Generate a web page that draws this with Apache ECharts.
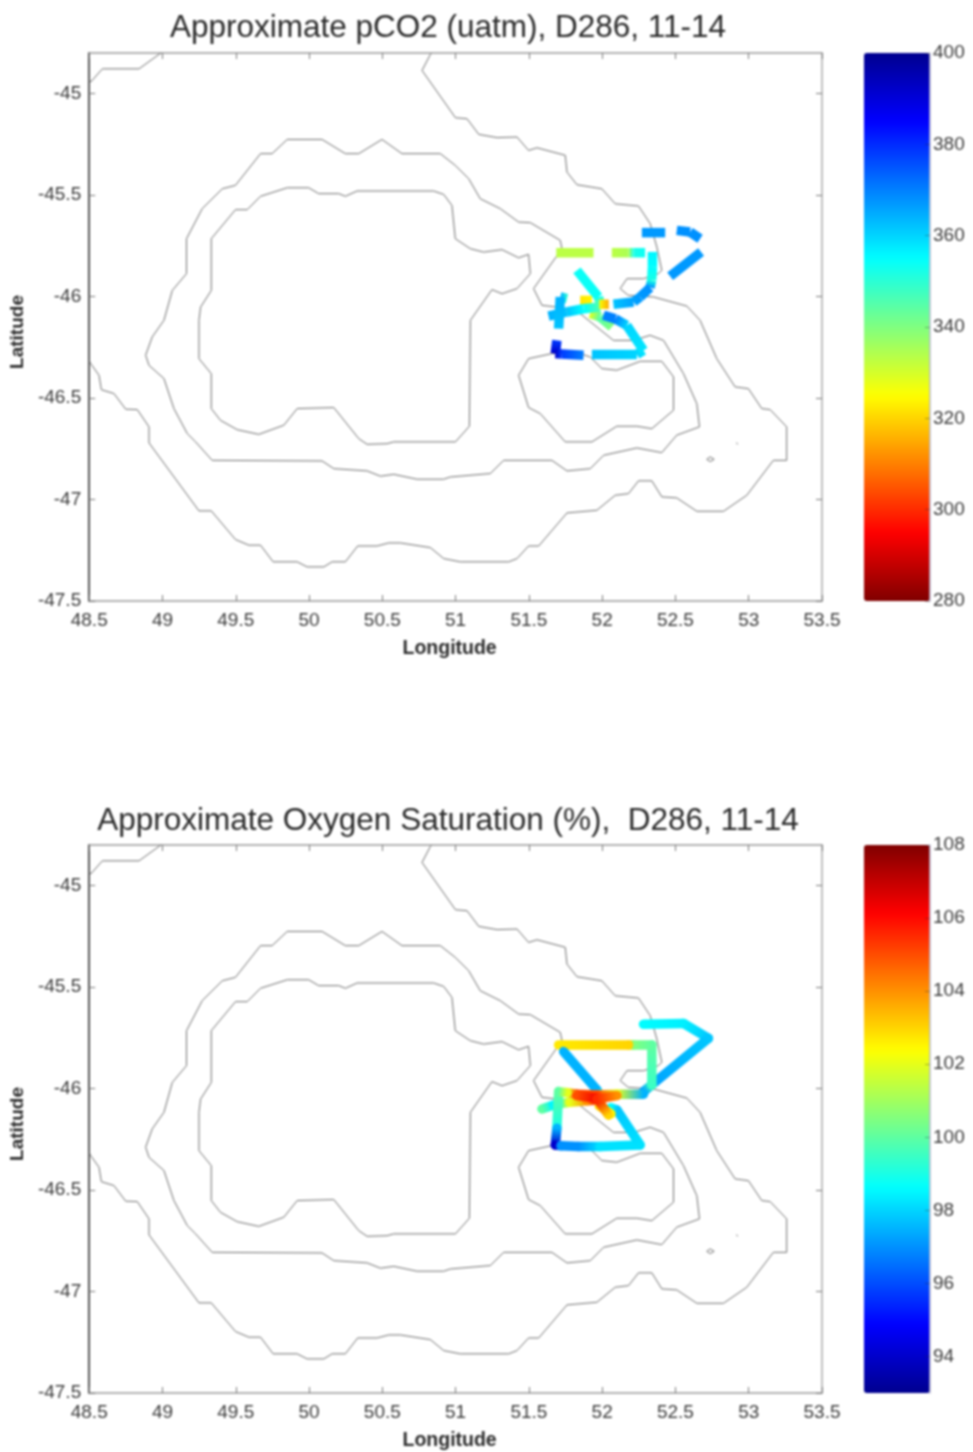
<!DOCTYPE html>
<html><head><meta charset="utf-8">
<style>html,body{margin:0;padding:0;background:#fff}#chart{width:973px;height:1452px;filter:blur(0.8px)}</style>
<script src="https://cdn.jsdelivr.net/npm/echarts@6/dist/echarts.min.js"></script>
</head><body><div id="chart"></div>
<script>
const titles = ['Approximate pCO2 (uatm), D286, 11-14', 'Approximate Oxygen Saturation (%),  D286, 11-14'];
const lonTicks = [48.5,49,49.5,50,50.5,51,51.5,52,52.5,53,53.5];
const latTicks = [-47.5,-47,-46.5,-46,-45.5,-45];
const pco2Ticks = [280,300,320,340,360,380,400];
const oxyTicks = [94,96,98,100,102,104,106,108];
const jet = ['#00008f','#0000ff','#0080ff','#00ffff','#80ff80','#ffff00','#ff8000','#ff0000','#800000'];

const contourNW = [[48.5,-44.93],[48.510,-44.943],[48.590,-44.878],[48.840,-44.878],[48.976,-44.807],[48.99,-44.8]];
const contourOuter = [[48.5,-46.315],[48.510,-46.330],[48.567,-46.388],[48.583,-46.459],[48.669,-46.478],[48.749,-46.555],[48.828,-46.557],[48.908,-46.642],[48.908,-46.721],[49.249,-47.056],[49.333,-47.056],[49.498,-47.197],[49.589,-47.225],[49.669,-47.225],[49.755,-47.307],[49.919,-47.307],[49.987,-47.332],[50.101,-47.332],[50.157,-47.307],[50.248,-47.307],[50.332,-47.229],[50.464,-47.229],[50.544,-47.214],[50.623,-47.214],[50.828,-47.237],[50.919,-47.291],[51.032,-47.307],[51.362,-47.307],[51.419,-47.291],[51.498,-47.229],[51.567,-47.229],[51.760,-47.066],[51.964,-47.053],[52.089,-46.979],[52.180,-46.971],[52.248,-46.908],[52.339,-46.908],[52.407,-46.987],[52.509,-46.992],[52.646,-47.058],[52.828,-47.058],[52.987,-46.979],[53.168,-46.807],[53.259,-46.807],[53.259,-46.642],[53.146,-46.557],[53.089,-46.552],[52.998,-46.454],[52.907,-46.445],[52.782,-46.306],[52.668,-46.117],[52.578,-46.047],[52.350,-46.002],[52.178,-45.994],[52.123,-45.961],[52.169,-45.912],[52.282,-45.912],[52.384,-45.887],[52.407,-45.871],[52.373,-45.756],[52.328,-45.641],[52.248,-45.554],[52.089,-45.543],[51.998,-45.469],[51.828,-45.449],[51.760,-45.387],[51.748,-45.304],[51.555,-45.267],[51.498,-45.280],[51.419,-45.214],[51.283,-45.217],[51.158,-45.201],[51.078,-45.124],[50.999,-45.119],[50.771,-44.886],[50.828,-44.807],[50.835,-44.8]];
const contourMiddle = [[49.010,-46.117],[49.067,-45.970],[49.164,-45.887],[49.164,-45.715],[49.271,-45.567],[49.408,-45.469],[49.498,-45.452],[49.669,-45.296],[49.748,-45.296],[49.851,-45.226],[50.089,-45.226],[50.248,-45.296],[50.339,-45.296],[50.498,-45.226],[50.634,-45.296],[50.896,-45.296],[50.998,-45.354],[51.089,-45.419],[51.168,-45.518],[51.305,-45.567],[51.430,-45.633],[51.510,-45.636],[51.714,-45.723],[51.726,-45.764],[51.532,-45.961],[51.589,-46.043],[51.680,-46.051],[51.850,-46.084],[52.077,-46.216],[52.214,-46.216],[52.327,-46.191],[52.419,-46.216],[52.555,-46.380],[52.646,-46.528],[52.664,-46.642],[52.509,-46.683],[52.407,-46.769],[52.237,-46.746],[52.010,-46.782],[51.919,-46.848],[51.760,-46.859],[51.657,-46.807],[51.328,-46.807],[51.237,-46.872],[50.964,-46.889],[50.918,-46.900],[50.737,-46.900],[50.578,-46.876],[50.487,-46.885],[50.396,-46.859],[50.169,-46.848],[50.089,-46.810],[49.339,-46.807],[49.226,-46.716],[49.169,-46.675],[49.078,-46.552],[49.010,-46.404],[48.908,-46.339],[48.885,-46.289],[48.930,-46.199],[49.010,-46.117]];
const contourInner = [[49.249,-46.117],[49.260,-46.052],[49.333,-45.970],[49.333,-45.715],[49.498,-45.572],[49.578,-45.572],[49.669,-45.506],[49.851,-45.464],[49.998,-45.464],[50.066,-45.493],[50.203,-45.493],[50.248,-45.506],[50.328,-45.480],[50.850,-45.480],[50.919,-45.497],[50.975,-45.551],[50.998,-45.715],[51.100,-45.764],[51.191,-45.781],[51.317,-45.769],[51.430,-45.809],[51.498,-45.792],[51.510,-45.887],[51.419,-45.961],[51.317,-45.986],[51.248,-45.966],[51.101,-46.117],[51.094,-46.639],[50.999,-46.716],[50.578,-46.716],[50.532,-46.725],[50.396,-46.728],[50.339,-46.700],[50.169,-46.547],[49.919,-46.552],[49.828,-46.634],[49.657,-46.679],[49.510,-46.656],[49.396,-46.610],[49.333,-46.552],[49.333,-46.380],[49.249,-46.306],[49.249,-46.117]];
const contourIsland = [[51.657,-46.281],[51.498,-46.306],[51.430,-46.388],[51.498,-46.547],[51.578,-46.577],[51.748,-46.716],[51.930,-46.716],[52.100,-46.639],[52.237,-46.639],[52.339,-46.651],[52.487,-46.560],[52.487,-46.396],[52.407,-46.319],[52.260,-46.319],[52.100,-46.363],[51.998,-46.355],[51.919,-46.298],[51.851,-46.281],[51.657,-46.281]];
const contourSpot = [[52.714,-46.802],[52.737,-46.790],[52.764,-46.802],[52.737,-46.813],[52.714,-46.802]];
const contourDot = [[52.918,-46.720],[52.923,-46.728]];
const contours = [contourNW, contourOuter, contourMiddle, contourInner, contourIsland, contourSpot, contourDot];

// each leg: [lon, lat, value]
const pco2Legs = [
 [[51.918,-46.084,328],[51.987,-46.101,345],[52.066,-46.150,340]],
 [[52.271,-45.685,367],[52.430,-45.685,367]],
 [[52.509,-45.674,368],[52.600,-45.682,368],[52.668,-45.715,368]],
 [[52.675,-45.780,367],[52.464,-45.900,367]],
 [[51.687,-45.784,333],[51.941,-45.784,333]],
 [[52.066,-45.784,333],[52.180,-45.784,335],[52.214,-45.784,352],[52.293,-45.784,354]],
 [[52.343,-45.780,356],[52.343,-45.854,355],[52.338,-45.920,352],[52.327,-45.956,368],[52.259,-46.002,367],[52.214,-46.027,366],[52.077,-46.038,362]],
 [[51.828,-45.871,354],[51.975,-46.002,354],[51.987,-46.040,340]],
 [[51.850,-46.019,322],[51.930,-46.019,324]],
 [[51.634,-46.097,364],[51.759,-46.076,362],[51.873,-46.060,355],[51.987,-46.051,345]],
 [[51.714,-46.002,364],[51.760,-46.010,350]],
 [[51.714,-46.002,364],[51.703,-46.158,362]],
 [[51.980,-46.038,326],[52.045,-46.038,315]],
 [[51.691,-46.216,378],[51.680,-46.281,392],[51.725,-46.283,378],[51.873,-46.289,370]],
 [[51.930,-46.285,362],[52.237,-46.285,360],[52.282,-46.265,358],[52.168,-46.142,360],[52.090,-46.110,370],[52.009,-46.092,370]]
];
const oxyLegs = [
 [[52.282,-45.683,98.6],[52.555,-45.679,98.4],[52.725,-45.752,97.8],[52.282,-46.015,97.2]],
 [[52.282,-46.015,97.2],[52.339,-45.982,99.5],[52.339,-45.785,100]],
 [[52.339,-45.785,100],[52.214,-45.785,100.5],[52.180,-45.785,103],[51.703,-45.785,102.7]],
 [[51.737,-45.818,97.5],[51.964,-46.007,97.5],[51.975,-46.020,99]],
 [[51.589,-46.101,100],[51.669,-46.081,98.5],[51.703,-46.075,99.5],[51.780,-46.068,102],[51.896,-46.060,104],[51.964,-46.056,106]],
 [[51.703,-46.015,100],[51.691,-46.196,99],[51.691,-46.196,97.5],[51.680,-46.278,94]],
 [[51.680,-46.278,94],[51.720,-46.282,97],[51.839,-46.286,97],[51.987,-46.286,98.2],[52.259,-46.278,98.2],[52.100,-46.105,97.8],[52.060,-46.095,98.6]],
 [[52.282,-46.028,97.5],[52.100,-46.028,102],[51.964,-46.032,105],[51.827,-46.028,105],[51.760,-46.020,102],[51.703,-46.015,100]],
 [[51.980,-46.085,103],[52.060,-46.125,102.5]],
 [[51.827,-46.035,105],[51.964,-46.048,106.3],[52.043,-46.131,103]],
 [[52.100,-46.035,104],[51.964,-46.050,105.5]]
];

const chartEl = document.getElementById('chart');
const chart = echarts.init(chartEl);
const LEFT = 88, WIDTH = 734, HEIGHT = 548, TOPS = [53, 845];
const BAR_LEFT = 864, BAR_W = 66;

function hex(c){return [1,3,5].map(i=>parseInt(c.substr(i,2),16));}
function colorOf(v, lo, hi, stops){
  const t = Math.max(0,Math.min(1,(v-lo)/(hi-lo)))*(stops.length-1);
  const i = Math.min(stops.length-2,Math.floor(t)), f = t-i;
  const a = hex(stops[i]), b = hex(stops[i+1]);
  return 'rgb('+a.map((x,k)=>Math.round(x+(b[k]-x)*f)).join(',')+')';
}
function legsToData(legs){
  const out=[];
  legs.forEach((leg,run)=>leg.forEach(p=>out.push([p[0],p[1],p[2],run])));
  return out;
}
function trackSeries(legs, axisIdx, lo, hi, stops, cap, width, z){
  const data = legsToData(legs);
  return {
    type:'custom', xAxisIndex:axisIdx, yAxisIndex:axisIdx, silent:true, z:z, clip:true,
    encode:{x:0,y:1}, data:data,
    renderItem:function(params, api){
      const i = params.dataIndex, p = data[i], q = data[i-1];
      if(!q || q[3]!==p[3]) return null;
      const a = api.coord([q[0],q[1]]), b = api.coord([p[0],p[1]]);
      const grad = new echarts.graphic.LinearGradient(a[0],a[1],b[0],b[1],[
        {offset:0,color:colorOf(q[2],lo,hi,stops)},
        {offset:1,color:colorOf(p[2],lo,hi,stops)}], true);
      return {type:'line', shape:{x1:a[0],y1:a[1],x2:b[0],y2:b[1]},
        style:{stroke:grad,lineWidth:width,lineCap:cap,fill:null}};
    }
  };
}
const labelStyle = {color:'#3a3a3a',fontFamily:'Liberation Sans',fontSize:19};
function lonAxis(g, pos){
  return {type:'value',gridIndex:g,position:pos,min:48.5,max:53.5,interval:0.5,splitLine:{show:false},
    axisLine:{show:true,onZero:false,lineStyle:{color:'#999',width:1.5}},
    axisTick:{show:true,inside:true,length:6,lineStyle:{color:'#777',width:1}},
    axisLabel:{show:pos==='bottom',margin:10,showMinLabel:true,showMaxLabel:true,...labelStyle},
    name:pos==='bottom'?'Longitude':'',nameLocation:'middle',nameGap:38,
    nameTextStyle:{color:'#2a2a2a',fontFamily:'Liberation Sans',fontSize:19.5,fontWeight:'bold',padding:[0,12,0,0]}};
}
function latAxis(g, pos){
  return {type:'value',gridIndex:g,position:pos,min:-47.5,max:-44.8,splitLine:{show:false},
    axisLine:{show:true,onZero:false,lineStyle:{color:pos==='left'?'#555':'#aaa',width:pos==='left'?2:1.5}},
    axisTick:{show:true,inside:true,length:6,customValues:latTicks,lineStyle:{color:'#777',width:1}},
    axisLabel:{show:pos==='left',margin:8,customValues:latTicks,...labelStyle},
    name:pos==='left'?'Latitude':'',nameLocation:'middle',nameGap:59,nameRotate:90,
    nameTextStyle:{color:'#2a2a2a',fontFamily:'Liberation Sans',fontSize:19,fontWeight:'bold',padding:[0,10,0,0]}};
}
function barAxis(g, lo, hi, ticks){
  return {type:'value',gridIndex:g,position:'right',min:lo,max:hi,splitLine:{show:false},z:6,
    axisLine:{show:true,onZero:false,lineStyle:{color:'#b8b8d0',width:1.5}},
    axisTick:{show:true,inside:true,length:5,customValues:ticks,lineStyle:{color:'#223',width:1,opacity:0.35}},
    axisLabel:{margin:3,customValues:ticks,...labelStyle}};
}
function hiddenX(g){return {type:'value',gridIndex:g,show:false,min:0,max:1};}
function contourSeries(idx){
  return contours.map(c=>({type:'line',xAxisIndex:idx,yAxisIndex:idx,data:c,showSymbol:false,silent:true,
    clip:true,z:2,lineStyle:{color:'#6e6e6e',width:1},animation:false}));
}
const revJet = jet.slice().reverse();
const rect = t => ({left:LEFT,top:t,width:WIDTH,height:HEIGHT});
const barRect = t => ({left:BAR_LEFT,top:t,width:BAR_W,height:HEIGHT});
const titleItem = (text,top)=>({text,left:443,top,textAlign:'center',
  textStyle:{color:'#2a2a2a',fontFamily:'Liberation Sans',fontSize:31.5,fontWeight:'normal'}});

chart.setOption({
  animation:false,
  backgroundColor:'#fff',
  title:[titleItem(titles[0],7),titleItem(titles[1],800)],
  grid:[rect(TOPS[0]),rect(TOPS[1]),barRect(TOPS[0]),barRect(TOPS[1])],
  xAxis:[lonAxis(0,'bottom'),lonAxis(1,'bottom'),hiddenX(2),hiddenX(3),lonAxis(0,'top'),lonAxis(1,'top')],
  yAxis:[latAxis(0,'left'),latAxis(1,'left'),barAxis(2,280,400,pco2Ticks),barAxis(3,93,108,oxyTicks),latAxis(0,'right'),latAxis(1,'right')],
  visualMap:[
    {type:'continuous',min:280,max:400,left:BAR_LEFT,top:TOPS[0],itemWidth:BAR_W,itemHeight:HEIGHT,padding:0,
     calculable:false,seriesIndex:[],inRange:{color:revJet},text:null,z:1},
    {type:'continuous',min:93,max:108,left:BAR_LEFT,top:TOPS[1],itemWidth:BAR_W,itemHeight:HEIGHT,padding:0,
     calculable:false,seriesIndex:[],inRange:{color:jet},text:null,z:1}
  ],
  series:[
    ...contourSeries(0),
    ...contourSeries(1),
    trackSeries(pco2Legs,0,280,400,revJet,'butt',9.5,5),
    trackSeries(oxyLegs,1,93,108,jet,'round',9.5,5)
  ]
});
</script></body></html>
